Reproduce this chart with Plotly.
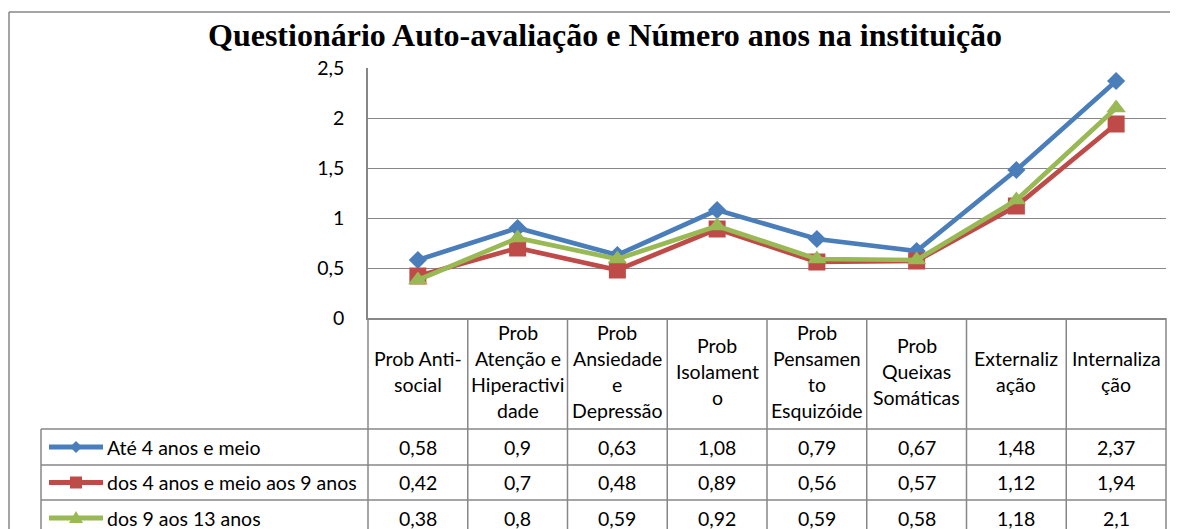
import plotly.graph_objects as go

W, H = 1178, 529

# ---------------- data ----------------
title = "Questionário Auto-avaliação e Número anos na instituição"
categories = ["Prob Anti-social", "Prob Atenção e Hiperactividade", "Prob Ansiedade e Depressão",
              "Prob Isolamento", "Prob Pensamento Esquizóide", "Prob Queixas Somáticas",
              "Externalização", "Internalização"]
category_lines = [["Prob Anti-", "social"],
                  ["Prob", "Atenção e", "Hiperactivi", "dade"],
                  ["Prob", "Ansiedade", "e", "Depressão"],
                  ["Prob", "Isolament", "o"],
                  ["Prob", "Pensamen", "to", "Esquizóide"],
                  ["Prob", "Queixas", "Somáticas"],
                  ["Externaliz", "ação"],
                  ["Internaliza", "ção"]]
series_names = ["Até 4 anos e meio", "dos 4 anos e meio aos 9 anos", "dos 9 aos 13 anos"]
ate_4_5 = [0.58, 0.9, 0.63, 1.08, 0.79, 0.67, 1.48, 2.37]
de_4_5_a_9 = [0.42, 0.7, 0.48, 0.89, 0.56, 0.57, 1.12, 1.94]
de_9_a_13 = [0.38, 0.8, 0.59, 0.92, 0.59, 0.58, 1.18, 2.1]
series_values = [ate_4_5, de_4_5_a_9, de_9_a_13]

# ---------------- style ----------------
colors = ["#4A7EBB", "#BE4B48", "#98B954"]
symbols = ["diamond", "square", "triangle-up"]
msizes = [14, 17, 17]
FONT = "Lato"
FS = 19.5
GRID = "#878787"

# layout geometry in window pixels (the page body adds an 8px offset)
OFF = 8
PL, PR, PT, PB = 368, 1166, 68, 318      # plot area
LEG_L = 41                               # left edge of legend column in table
ROWS = [429, 465, 500, 536]              # table row boundaries
HDR_C = 371                              # header text centre
LINE_H = 26
FRAME_L, FRAME_T = 9, 12


def X(px):
    return (px - OFF) / W


def Y(py):
    return 1 - (py - OFF) / H


fig = go.Figure()
for name, vals, c, s, ms in zip(series_names, series_values, colors, symbols, msizes):
    fig.add_trace(go.Scatter(
        x=categories, y=vals, name=name, mode="lines+markers",
        line=dict(color=c, width=4.7),
        marker=dict(symbol=s, size=ms, color=c),
        showlegend=False))

shapes = []
annotations = []

# outer frame (left and top)
shapes.append(dict(type="line", xref="paper", yref="paper", x0=X(FRAME_L), x1=X(FRAME_L),
                   y0=Y(FRAME_T), y1=0, line=dict(color=GRID, width=1.5)))
shapes.append(dict(type="line", xref="paper", yref="paper", x0=X(FRAME_L), x1=1,
                   y0=Y(FRAME_T), y1=Y(FRAME_T), line=dict(color=GRID, width=1.5)))

# table vertical lines
cw = (PR - PL) / len(categories)
for i in range(len(categories) + 1):
    xp = PL + i * cw
    shapes.append(dict(type="line", xref="paper", yref="paper", x0=X(xp), x1=X(xp),
                       y0=Y(PB), y1=0, line=dict(color=GRID, width=1.5)))
# legend column left line
shapes.append(dict(type="line", xref="paper", yref="paper", x0=X(LEG_L), x1=X(LEG_L),
                   y0=Y(ROWS[0]), y1=0, line=dict(color=GRID, width=1.5)))
# table horizontal lines
for r in ROWS[:3]:
    shapes.append(dict(type="line", xref="paper", yref="paper", x0=X(LEG_L), x1=X(PR),
                       y0=Y(r), y1=Y(r), line=dict(color=GRID, width=1.5)))

# header labels
for cat, lines in zip(categories, category_lines):
    n = len(lines)
    for k, ln in enumerate(lines):
        yp = HDR_C + (k - (n - 1) / 2) * LINE_H
        annotations.append(dict(x=cat, xref="x", y=Y(yp), yref="paper", text=ln,
                                showarrow=False, xanchor="center", yanchor="middle",
                                font=dict(family=FONT, size=FS, color="#000000")))

# data rows
for r, (name, vals, c, s) in enumerate(zip(series_names, series_values, colors, symbols)):
    yc = (ROWS[r] + ROWS[r + 1]) / 2
    for cat, v in zip(categories, vals):
        annotations.append(dict(x=cat, xref="x", y=Y(yc), yref="paper",
                                text=str(v).replace(".", ","), showarrow=False,
                                xanchor="center", yanchor="middle",
                                font=dict(family=FONT, size=FS, color="#000000")))
    annotations.append(dict(x=X(105), xref="paper", y=Y(yc), yref="paper", text=name,
                            showarrow=False, xanchor="left", yanchor="middle",
                            font=dict(family=FONT, size=FS, color="#000000")))
    # legend key
    shapes.append(dict(type="line", xref="paper", yref="paper", x0=X(49), x1=X(103),
                       y0=Y(yc), y1=Y(yc), line=dict(color=c, width=5)))
    cx = 76
    if s == "diamond":
        d = 6
        path = (f"M{X(cx - d)},{Y(yc)} L{X(cx)},{Y(yc - d)} L{X(cx + d)},{Y(yc)} "
                f"L{X(cx)},{Y(yc + d)} Z")
    elif s == "square":
        d = 6
        path = (f"M{X(cx - d)},{Y(yc - d)} L{X(cx + d)},{Y(yc - d)} L{X(cx + d)},{Y(yc + d)} "
                f"L{X(cx - d)},{Y(yc + d)} Z")
    else:
        d = 7
        path = (f"M{X(cx - d)},{Y(yc + 5)} L{X(cx)},{Y(yc - 7)} L{X(cx + d)},{Y(yc + 5)} Z")
    shapes.append(dict(type="path", xref="paper", yref="paper", path=path,
                       fillcolor=c, line=dict(color=c, width=0)))

# title
annotations.append(dict(x=X(605), xref="paper", y=Y(35), yref="paper", text=f"<b>{title}</b>",
                        showarrow=False, xanchor="center", yanchor="middle",
                        font=dict(family="Liberation Serif", size=32, color="#000000")))

fig.update_layout(
    template="none",
    width=W, height=H, autosize=False,
    margin=dict(l=0, r=0, t=0, b=0, pad=0, autoexpand=False),
    paper_bgcolor="white", plot_bgcolor="white",
    separators=",.",
    shapes=shapes, annotations=annotations,
    xaxis=dict(domain=[X(PL), X(PR)], range=[-0.5, 7.5], showticklabels=False,
               automargin=False,
               showgrid=False, zeroline=False, showline=True, linecolor=GRID, linewidth=1.5,
               ticks=""),
    yaxis=dict(domain=[Y(PB), Y(PT)], range=[0, 2.5], dtick=0.5, tick0=0,
               automargin=False,
               showgrid=True, gridcolor=GRID, gridwidth=1.3, zeroline=False,
               showline=True, linecolor=GRID, linewidth=1.5, ticks="",
               ticklabelstandoff=18,
               tickfont=dict(family=FONT, size=FS, color="#000000")),
    font=dict(family=FONT, size=FS, color="#000000"),
)

fig.write_html("out.html")
